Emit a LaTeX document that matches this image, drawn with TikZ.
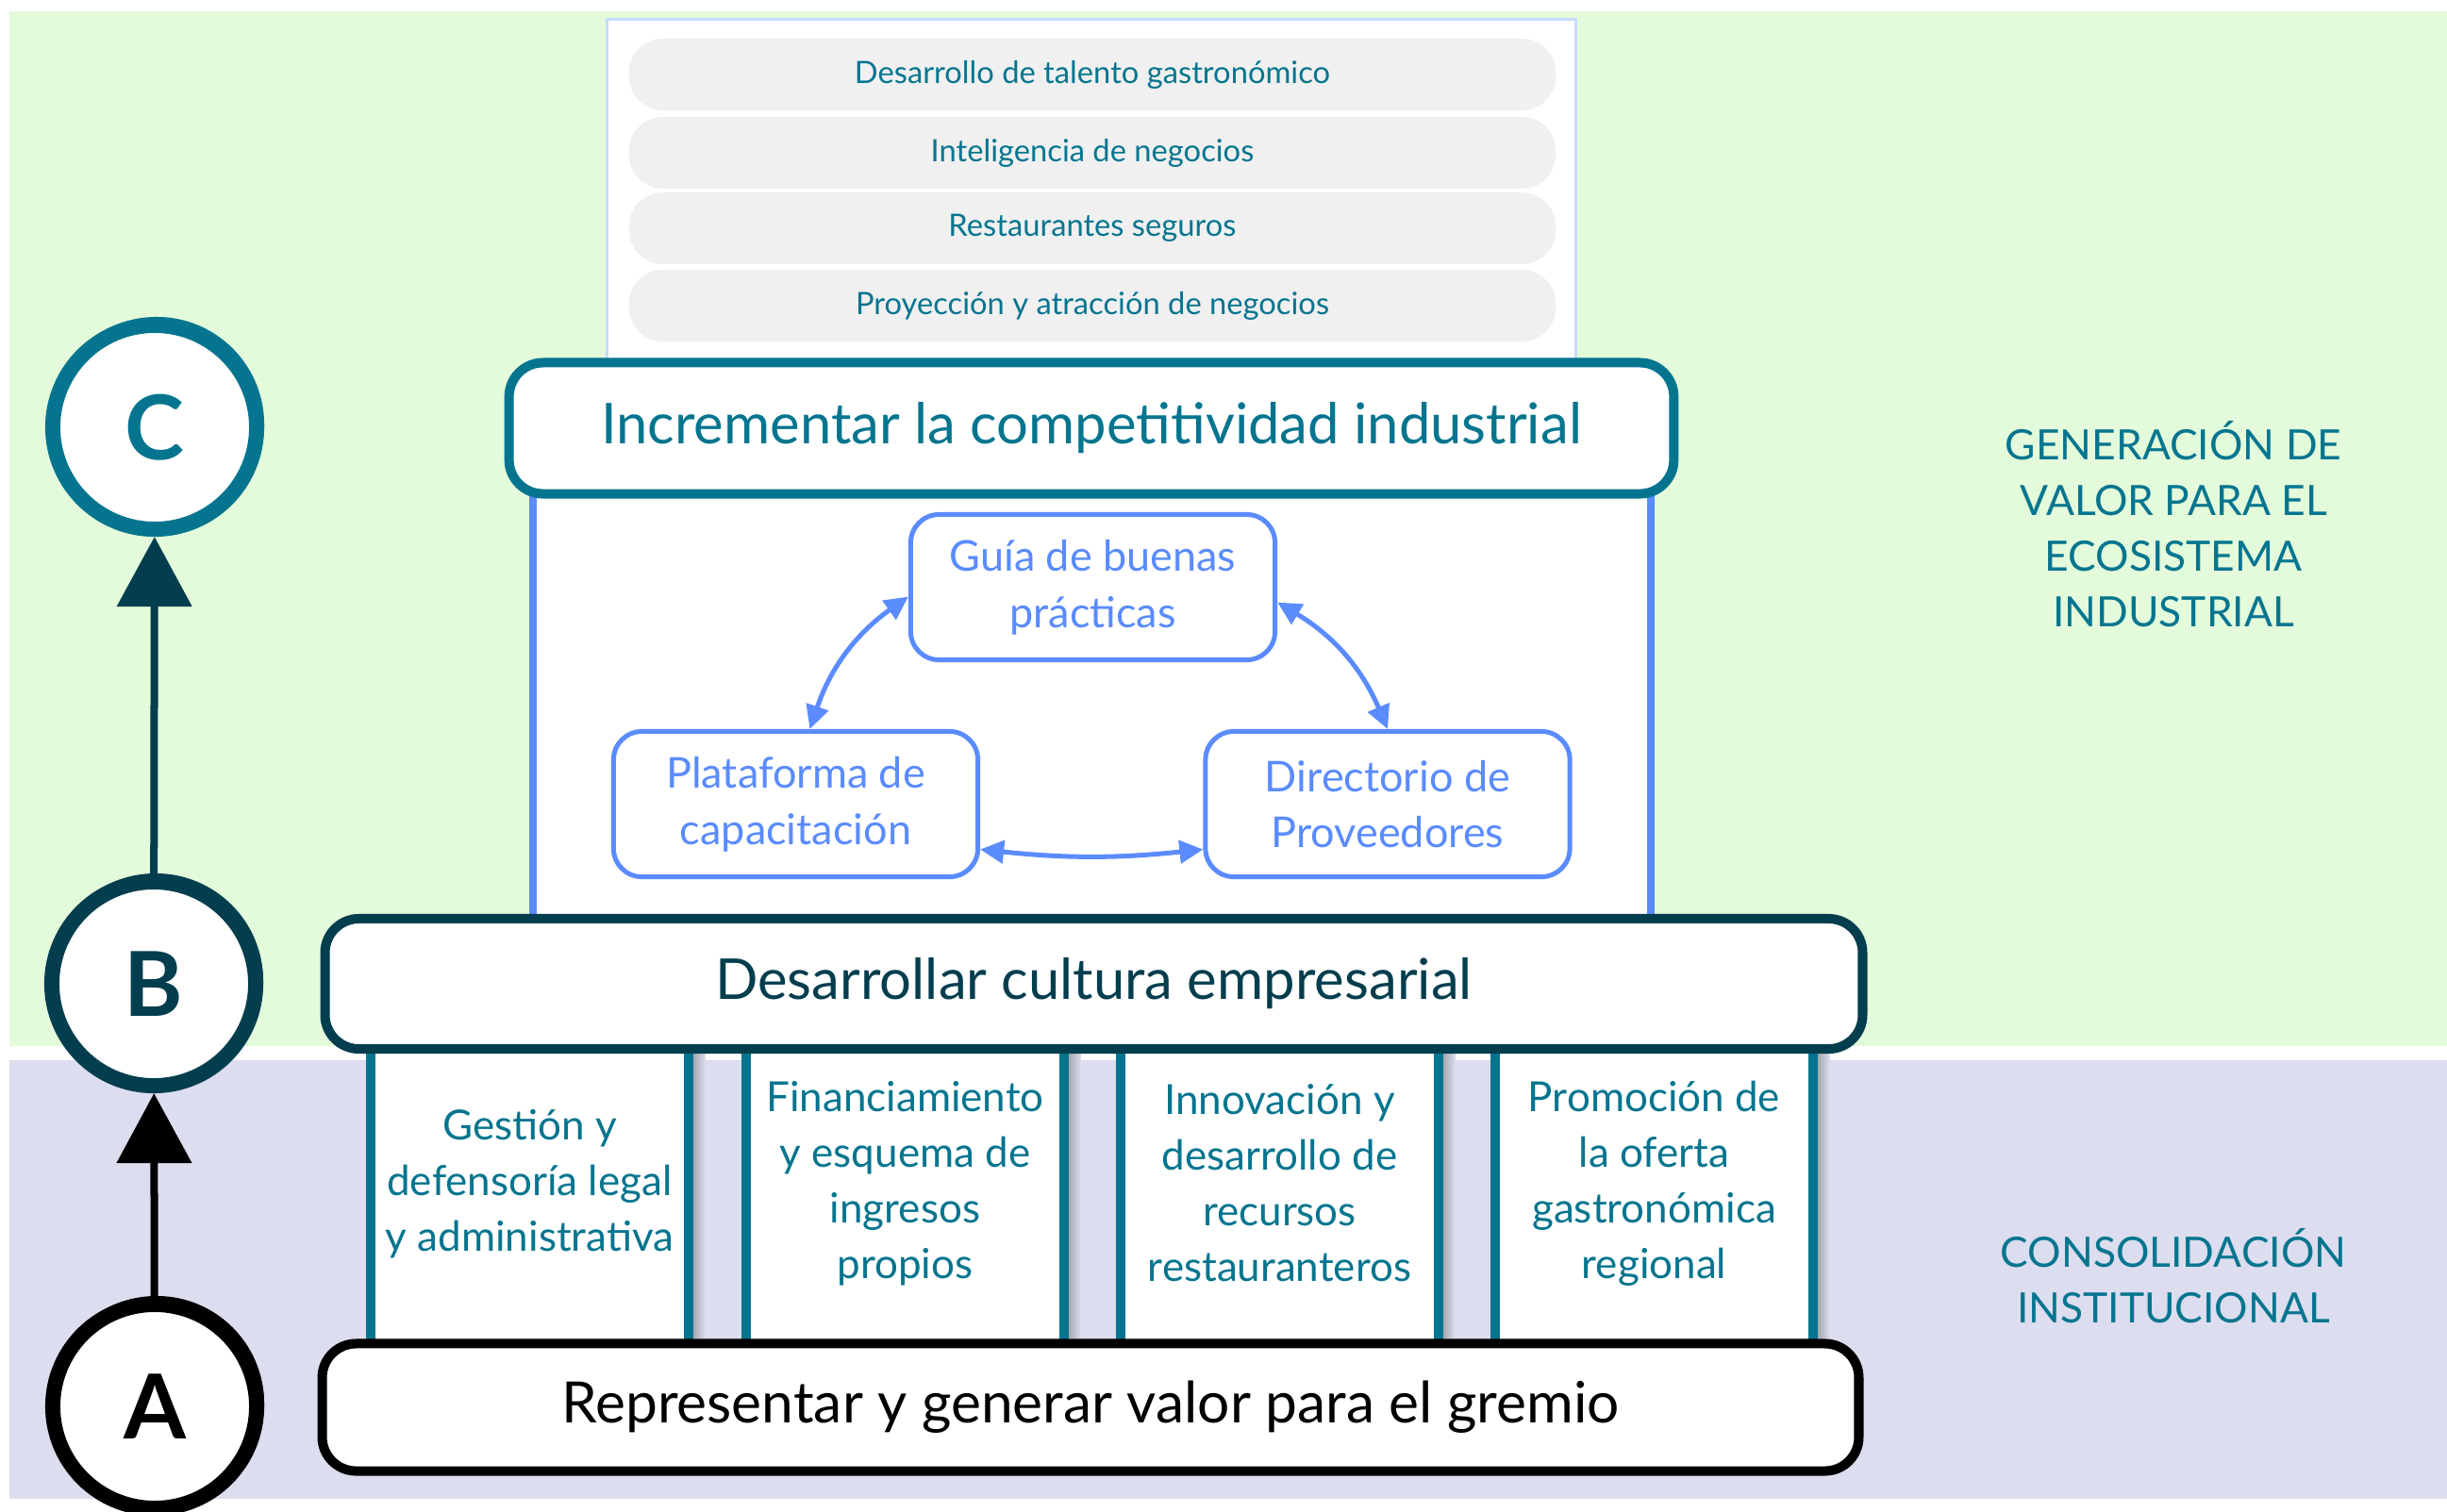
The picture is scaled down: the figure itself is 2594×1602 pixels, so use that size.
\documentclass[tikz,border=0pt]{standalone}
\usepackage{fontspec}
\setmainfont{Lato}
\usetikzlibrary{arrows.meta,shapes.misc}
\definecolor{tealc}{HTML}{05758F}
\definecolor{darkc}{HTML}{033E4E}
\definecolor{bluec}{HTML}{5A8BFF}
\definecolor{paleblue}{HTML}{C6DDFB}
\definecolor{greenbg}{HTML}{E3FBDB}
\definecolor{lavbg}{HTML}{DCDDEF}
\definecolor{pillbg}{HTML}{F0F0F0}
\begin{document}
\begin{tikzpicture}[x=0.01cm,y=-0.01cm,
  pill/.style={fill=pillbg, rounded corners=0.36cm, minimum width=9.82cm, minimum height=0.76cm, inner sep=0pt, text=tealc, font=\fontsize{9.3}{11}\selectfont},
  bigbox/.style={fill=white, line width=0.1cm, rounded corners=0.36cm, inner sep=0pt, font=\fontsize{17}{20}\selectfont},
  inner/.style={draw=bluec, fill=white, line width=0.05cm, rounded corners=0.3cm, minimum width=3.86cm, minimum height=1.54cm, inner sep=0pt, align=center, text=bluec, font=\fontsize{12.8}{17}\selectfont},
  barrow/.style={bluec, line width=0.05cm, {Triangle[length=0.25cm,width=0.24cm]}-{Triangle[length=0.25cm,width=0.24cm]}},
  pillar/.style={fill=white, minimum width=3.35cm, minimum height=3.15cm, inner sep=0pt},
  pline/.style={tealc, line width=0.1cm},
  ptext/.style={align=center, text=tealc, font=\fontsize{12.5}{16.8}\selectfont},
  sidetext/.style={align=center, text=tealc, font=\fontsize{12.6}{16.8}\selectfont},
  ring/.style={circle, fill=white, line width=0.16cm, minimum size=2.16cm, inner sep=0pt, font=\bfseries\fontsize{27}{27}\selectfont},
]
\useasboundingbox (0,0) rectangle (2594,1602);
\fill[white] (0,0) rectangle (2594,1602);
\fill[greenbg] (10,12) rectangle (2594,1109);
\fill[lavbg] (10,1124) rectangle (2594,1589);

% top panel with pills
\node[draw=paleblue, fill=white, line width=0.03cm, minimum width=10.27cm, minimum height=3.6cm, inner sep=0pt] (toppanel) at (1157,201) {};
\node[pill] (pill1) at (1158,79) {Desarrollo de talento gastronómico};
\node[pill] (pill2) at (1158,162) {Inteligencia de negocios};
\node[pill] (pill3) at (1158,242) {Restaurantes seguros};
\node[pill] (pill4) at (1158,324) {Proyección y atracción de negocios};

% middle blue panel
\node[fill=white, minimum width=11.83cm, minimum height=4.6cm, inner sep=0pt] (midpanel) at (1157.5,750) {};
\draw[bluec, line width=0.08cm] (midpanel.north west) -- (midpanel.south west);
\draw[bluec, line width=0.08cm] (midpanel.north east) -- (midpanel.south east);

% level C box
\node[bigbox, draw=tealc, text=tealc, minimum width=12.34cm, minimum height=1.39cm] (boxC) at (1157,454) {Incrementar la competitividad industrial};

% inner cycle
\node[inner] (guia) at (1158.5,622.5) {Guía de buenas\\prácticas};
\node[inner] (plat) at (843.5,852.5) {Plataforma de\\capacitación};
\node[inner] (dir) at (1471,852.5) {Directorio de\\Proveedores};
\draw[barrow] ([xshift=0.15cm]plat.north) to[bend left=18] ([yshift=-0.1cm]guia.west);
\draw[barrow] ([yshift=-0.16cm]guia.east) to[bend left=18] (dir.north);
\draw[barrow] ([yshift=-0.48cm]plat.east) to[bend right=6] ([yshift=-0.48cm]dir.west);

% pillars
\foreach \n/\x in {1/561.5,2/959.5,3/1356.5,4/1753.5}{
  \shade[left color=black!45, right color=lavbg] (\x+167,1117) rectangle (\x+186,1418);
  \node[pillar] (pil\n) at (\x,1267) {};
  \draw[pline] (pil\n.north west) -- (pil\n.south west);
  \draw[pline] (pil\n.north east) -- (pil\n.south east);
}
\node[ptext] (pt1) at (561.5,1255) {Gestión y\\defensoría legal\\y administrativa};
\node[ptext] (pt2) at (959.5,1255) {Financiamiento\\y esquema de\\ingresos\\propios};
\node[ptext] (pt3) at (1356.5,1254) {Innovación y\\desarrollo de\\recursos\\restauranteros};
\node[ptext] (pt4) at (1753.5,1255) {Promoción de\\la oferta\\gastronómica\\regional};

% level B and A boxes
\node[bigbox, draw=darkc, text=darkc, minimum width=16.29cm, minimum height=1.38cm] (boxB) at (1159.5,1043) {Desarrollar cultura empresarial};
\node[bigbox, draw=black, text=black, minimum width=16.28cm, minimum height=1.35cm, font=\fontsize{17.2}{20}\selectfont] (boxA) at (1156,1492) {Representar y generar valor para el gremio};

% circles
\node[ring, draw=tealc, text=tealc] (cC) at (164,453) {C};
\node[ring, draw=darkc, text=darkc] (cB) at (163,1043) {B};
\node[ring, draw=black, text=black] (cA) at (164,1491) {A};
\draw[tealc, line width=0.02cm] (166,450) circle (1.13cm);
\draw[darkc, line width=0.02cm] (165,1040) circle (1.13cm);
\draw[black, line width=0.02cm] (166,1488) circle (1.13cm);
\draw[darkc, line width=0.08cm, -{Triangle[width=0.78cm,length=0.74cm]}] (cB) -- (cC);
\draw[black, line width=0.08cm, -{Triangle[width=0.78cm,length=0.74cm]}] (cA) -- (cB);

% side labels
\node[sidetext] (gen) at (2304,556) {GENERACIÓN DE\\VALOR PARA EL\\ECOSISTEMA\\INDUSTRIAL};
\node[sidetext] (cons) at (2304,1353) {CONSOLIDACIÓN\\INSTITUCIONAL};
\end{tikzpicture}
\end{document}
